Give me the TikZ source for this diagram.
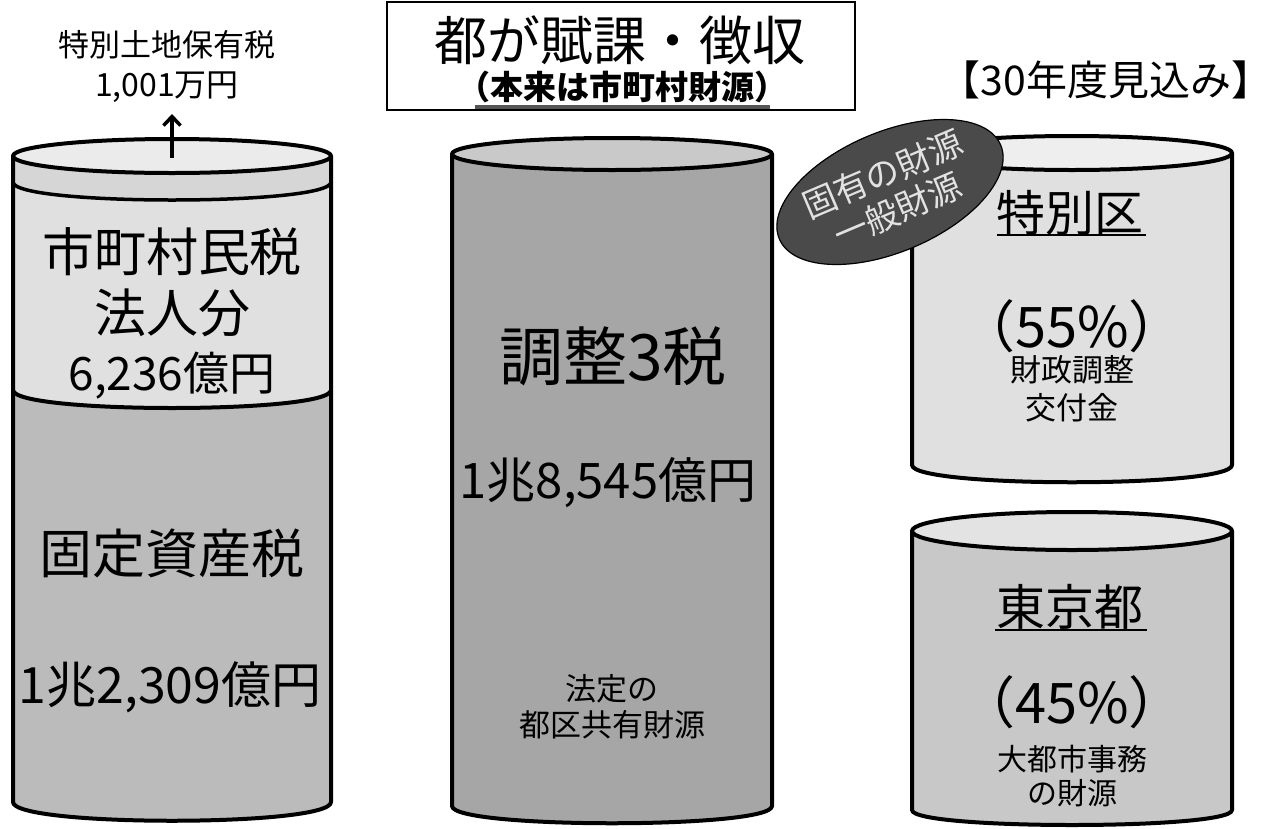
\documentclass[tikz,border=0pt]{standalone}
\usepackage{fontspec}
\setmainfont{Noto Sans CJK JP}
\usetikzlibrary{arrows.meta,shapes.geometric}
\newcommand\fsz[1]{\fontsize{#1}{#1}\selectfont}
\definecolor{ltop}{HTML}{EBEBEB}
\definecolor{lband}{HTML}{D6D6D6}
\definecolor{lmid}{HTML}{E0E0E0}
\definecolor{lbot}{HTML}{BBBBBB}
\definecolor{mside}{HTML}{A6A6A6}
\definecolor{mtop}{HTML}{C9C9C9}
\definecolor{rtside}{HTML}{E0E0E0}
\definecolor{rttop}{HTML}{EEEEEE}
\definecolor{rbside}{HTML}{C8C8C8}
\definecolor{rbtop}{HTML}{E3E3E3}
\definecolor{labfill}{HTML}{4A4A4A}
\definecolor{labtxt}{HTML}{E2E2E2}
\definecolor{ulgray}{HTML}{555555}
\begin{document}
\begin{tikzpicture}[x=1pt,y=-1pt,
  outl/.style={line width=4pt, line join=round},
  txt/.style={inner sep=0pt, align=center}]
\useasboundingbox (0,0) rectangle (1270,828);

% ---------- left cylinder ----------
\fill[lbot] (13,390) -- (13,802) .. controls (13,827) and (331,827) .. (331,802) -- (331,390) .. controls (331,414) and (13,414) .. (13,390) -- cycle;
\fill[lmid] (13,182) -- (13,390) .. controls (13,414) and (331,414) .. (331,390) -- (331,182) .. controls (331,206) and (13,206) .. (13,182) -- cycle;
\fill[lband] (13,156) -- (13,182) .. controls (13,206) and (331,206) .. (331,182) -- (331,156) .. controls (331,179) and (13,179) .. (13,156) -- cycle;
\draw[line width=3.5pt] (13,182) .. controls (13,206) and (331,206) .. (331,182);
\draw[outl] (13,390) .. controls (13,414) and (331,414) .. (331,390);
\draw[outl] (13,156) -- (13,802) .. controls (13,827) and (331,827) .. (331,802) -- (331,156);
\draw[outl, fill=ltop] (172,156) ellipse [x radius=159, y radius=17];

\coordinate (arrS) at (172,158);
\coordinate (arrE) at (172,114);
\draw[line width=3.5pt, -{Straight Barb[length=9pt,width=17pt]}] (arrS) -- (arrE);

\node[txt, font=\fsz{31}] (tokubetsu) at (167,45) {特別土地保有税};
\node[txt, font=\fsz{32}] (tokuval) at (167,87) {1,001万円};

\node[txt, font=\fsz{52}] (shichoson) at (172,252) {市町村民税};
\node[txt, font=\fsz{52}] (hojin) at (172,313) {法人分};
\node[txt, font=\fsz{46}] (hojinval) at (172,376) {6,236億円};
\node[txt, font=\fsz{53}] (kotei) at (172,553) {固定資産税};
\node[txt, font=\fsz{50}] (koteival) at (170,687) {1兆2,309億円};

% ---------- middle cylinder ----------
\draw[outl, fill=mside] (452,154) -- (452,806) .. controls (452,829) and (772,829) .. (772,806) -- (772,154);
\draw[outl, fill=mtop] (612,154) ellipse [x radius=160, y radius=16];

\node[txt, font=\fsz{64}] (chosei) at (613,356) {調整3税};
\node[txt, font=\fsz{49}] (choseival) at (608,483) {1兆8,545億円};
\node[txt, font=\fontsize{31}{36}\selectfont] (hotei) at (612,707) {法定の\\都区共有財源};

% ---------- title box ----------
\node[draw, line width=1.5pt, minimum width=468pt, minimum height=108pt, inner sep=0pt] (titlebox) at (621,56) {};
\node[txt, font=\fsz{53}] (title) at (620,40) {都が賦課・徴収};
\node[txt, font=\bfseries\fsz{33}] (subtitle) at (622,87) {（本来は市町村財源）};
\coordinate (ulA) at (475,107);
\coordinate (ulB) at (770,107);
\draw[line width=4pt, ulgray] (ulA) -- (ulB);

\node[txt, font=\fsz{41}] (mikomi) at (1106,80) {【30年度見込み】};

% ---------- right top cylinder ----------
\draw[outl, fill=rtside] (912,153) -- (912,465) .. controls (912,488) and (1232,488) .. (1232,465) -- (1232,153);
\draw[outl, fill=rttop] (1072,153) ellipse [x radius=160, y radius=17];

\node[txt, font=\fsz{49}] (tokuku) at (1070,213) {特別区};
\coordinate (ul1A) at (997,235);
\coordinate (ul1B) at (1146,235);
\draw[line width=2pt] (ul1A) -- (ul1B);
\node[txt, font=\fsz{56}] (p55) at (1072,326) {（55\%）};
\node[txt, font=\fontsize{31}{38}\selectfont] (zaisei) at (1072,389) {財政調整\\交付金};

% ---------- right bottom cylinder ----------
\draw[outl] [fill=rbside] (912,531) -- (912,810) .. controls (912,830) and (1232,830) .. (1232,810) -- (1232,531);
\draw[outl, fill=rbtop] (1072,531) ellipse [x radius=160, y radius=19];

\node[txt, font=\fsz{49}] (tokyo) at (1070,607) {東京都};
\coordinate (ul2A) at (995,630);
\coordinate (ul2B) at (1147,630);
\draw[line width=2pt] (ul2A) -- (ul2B);
\node[txt, font=\fsz{56}] (p45) at (1072,702) {（45\%）};
\node[txt, font=\fontsize{30}{34}\selectfont] (daitoshi) at (1072,776) {大都市事務\\の財源};

% ---------- label ellipse ----------
\node[ellipse, draw=black, line width=1.2pt, fill=labfill, minimum width=228pt, minimum height=120pt, inner sep=0pt, rotate=23, text=labtxt, align=center, font=\fontsize{34}{39}\selectfont] (label) at (890,192) {固有の財源\\一般財源};
\end{tikzpicture}
\end{document}
